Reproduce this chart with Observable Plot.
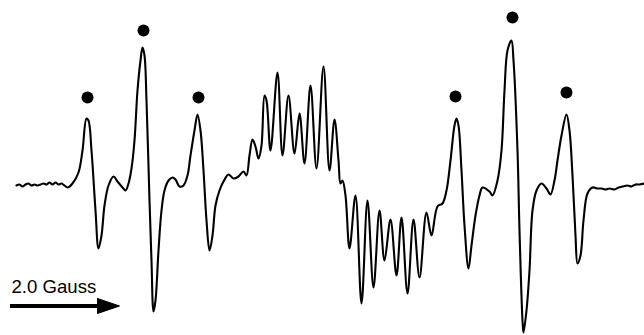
<!DOCTYPE html>
<html>
<head>
<meta charset="utf-8">
<script src="https://cdn.jsdelivr.net/npm/d3@7"></script>
<script src="https://cdn.jsdelivr.net/npm/@observablehq/plot@0.6"></script>
<style>
  html, body { margin: 0; padding: 0; background: #fff; }
  #chart svg { display: block; }
</style>
</head>
<body>
<div id="chart"></div>
<script>
// Field position (arbitrary units along the sweep) and derivative signal intensity
const field = [16,19,22,25,28,31,34,37,40,43,46,49,52,55,58,61,64,67,72,78,82,86,88,91,95,98,101,104,108,113,117,122,125,128,131,134,137,140,142,144,146,149,151,153,155,158,161,164,168,172,175,179,183,187,190,194,197,200,203,206,209,212,215,219,223,228,233,238,243,246,249,252,255,258,261,264,266,270,277,282,288,294,299,304,310,316,323,329,334,338,340,342,345,349,355,361,367,373,379,384,390,396,401,407,413,419,426,431,437,442,446,450,454,456,458,461,464,468,471,475,479,482,489,492,497,501,504,507,511,513,517,519,522,523,526,529,532,536,541,546,550,554,557,561,566,569,572,575,577,580,583,587,592,597,601,605,609,614,618,622,627,631,635,639,644];
const intensity = [0,1,-1,1,2,0,1,0,1,2,1,3,1,3,1,2,0,-2,2,13,35,67,65,35,-25,-63,-50,-20,0,9,4,-2,-5,2,17,45,95,125,138,130,85,-15,-75,-126,-115,-65,-25,-5,5,8,6,-1,0,10,30,55,71,55,15,-35,-65,-50,-20,-5,4,11,7,9,14,10,30,46,39,27,40,90,85,35,113,30,90,32,72,22,100,17,119,15,66,25,2,5,-10,-63,-10,-118,-15,-102,-25,-75,-34,-90,-32,-108,-34,-92,-27,-50,-21,-18,-5,25,60,67,60,15,-40,-83,-60,-30,-10,-2,-6,-10,5,35,95,135,145,125,35,-45,-135,-147,-125,-85,-25,-5,2,-3,-9,5,25,50,71,55,10,-50,-78,-70,-35,-8,-2,-3,-3,-4,-3,-4,-2,-1,0,-1,1,1,2];

// Marked hyperfine lines (filled dots)
const markerField = [87,143,198,455,512,566];
const markerLevel = [88,155,88,89,168,93];

// Scale bar
const scaleLabel = ["2.0 Gauss"];
const scaleLabelAt = [{x: 11, y: -102}];
const scaleShaft = [{x1: 10, x2: 99, y: -120.5}];
const scaleHead = [[97,-113],[119,-120.5],[97,-128],[97,-113]];

const spectrum = field.map((f, i) => ({x: f, y: intensity[i]}));
const markers = markerField.map((f, i) => ({x: f, y: markerLevel[i]}));

const plot = Plot.plot({
  width: 644,
  height: 335,
  margin: 0,
  x: {domain: [0, 644], axis: null},
  y: {domain: [-150, 185], axis: null},
  style: {background: "#fff"},
  marks: [
    Plot.line(spectrum, {x: "x", y: "y", stroke: "#000", strokeWidth: 2.1, curve: "catmull-rom"}),
    Plot.dot(markers, {x: "x", y: "y", r: 6, fill: "#000", stroke: "none"}),
    Plot.text(scaleLabelAt, {x: "x", y: "y", text: (d, i) => scaleLabel[i], textAnchor: "start",
      fontSize: 18.6, fontFamily: "Liberation Sans, Arial, sans-serif", fill: "#000"}),
    Plot.ruleY(scaleShaft, {x1: "x1", x2: "x2", y: "y", stroke: "#000", strokeWidth: 4}),
    Plot.line(scaleHead, {x: d => d[0], y: d => d[1], fill: "#000", stroke: "#000", strokeWidth: 1, curve: "linear"})
  ]
});
document.getElementById("chart").appendChild(plot);
</script>
</body>
</html>
